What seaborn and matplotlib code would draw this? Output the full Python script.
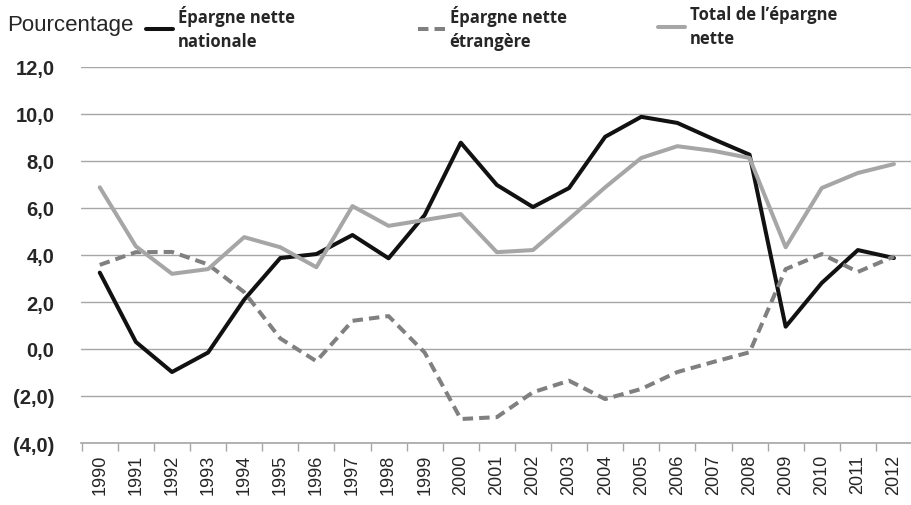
import matplotlib
matplotlib.use("Agg")
import matplotlib.pyplot as plt
import matplotlib.ticker as mticker
import seaborn as sns
import numpy as np
import pandas as pd

years = list(range(1990, 2013))
nationale = [3.25, 0.3, -0.98, -0.15, 2.1, 3.87, 4.04, 4.85, 3.86, 5.7,
             8.78, 6.98, 6.04, 6.85, 9.03, 9.88, 9.62, 8.93, 8.27, 0.95,
             2.81, 4.21, 3.87]
etrangere = [3.58, 4.12, 4.13, 3.6, 2.42, 0.45, -0.52, 1.2, 1.4, -0.15,
             -2.98, -2.9, -1.84, -1.35, -2.13, -1.7, -0.98, -0.55, -0.14, 3.4,
             4.04, 3.28, 3.94]
total = [6.88, 4.37, 3.2, 3.4, 4.76, 4.33, 3.48, 6.08, 5.24, 5.49,
         5.74, 4.12, 4.21, 5.53, 6.88, 8.13, 8.63, 8.43, 8.13, 4.33,
         6.85, 7.49, 7.87]
labels = ["Épargne nette\nnationale", "Épargne nette\nétrangère", "Total de l’épargne\nnette"]

df = pd.DataFrame({"annee": years, "nat": nationale, "etr": etrangere, "tot": total})

sns.set_style("white")

fig = plt.figure(figsize=(9.12, 5.06), dpi=100)
ax = fig.add_axes([81 / 912, 1 - 444 / 506, 1 - 81 / 912, (444 - 68) / 506])

sns.lineplot(data=df, x="annee", y="nat", ax=ax, color="#111111", lw=2.9, label=labels[0])
sns.lineplot(data=df, x="annee", y="etr", ax=ax, color="#808080", lw=2.9,
             label=labels[1], dashes=False, linestyle=(0, (2.6, 1.5)))
sns.lineplot(data=df, x="annee", y="tot", ax=ax, color="#a6a6a6", lw=2.9, label=labels[2])

ax.set_xlim(1989.48, 2012.28)
ax.set_ylim(-4, 12)
ax.set_xlabel("")
ax.set_ylabel("")

ax.set_yticks(np.arange(-4, 13, 2))
ax.yaxis.set_major_formatter(mticker.FuncFormatter(
    lambda v, p: ("(%.1f)" % abs(v)).replace(".", ",") if v < 0 else ("%.1f" % v).replace(".", ",")))
ax.grid(axis="y", color="#a6a6a6", lw=1)
ax.set_axisbelow(True)
ax.tick_params(axis="y", length=0, pad=19)
for t in ax.get_yticklabels():
    t.set_family("Liberation Sans")
    t.set_fontweight("bold")
    t.set_fontsize(14.5)

ax.set_xticks(years)
ax.set_xticklabels([str(y) for y in years], rotation=90, fontsize=13, family="Liberation Sans")
ax.set_xticks(np.arange(1989.5, 2013, 1), minor=True)
ax.tick_params(axis="x", which="major", length=0, pad=8)
ax.tick_params(axis="x", which="minor", length=6, color="#a6a6a6", width=1, direction="out", bottom=True)

for s in ["top", "right", "left"]:
    ax.spines[s].set_visible(False)
ax.spines["bottom"].set_color("#a6a6a6")
ax.spines["bottom"].set_linewidth(1.2)

ax.get_legend().remove()
handles, _ = ax.get_legend_handles_labels()
for h, lab, xpos in zip(handles, labels, [146, 418, 658]):
    leg = fig.legend([h], [lab], loc="upper left", bbox_to_anchor=(xpos / 912, 1 - 6 / 506),
                     frameon=False, handlelength=1.6, handletextpad=0.3, borderpad=0, borderaxespad=0,
                     prop={"family": "Open Sans", "weight": "bold", "size": 12})
    for t in leg.get_texts():
        t.set_linespacing(1.45)

fig.text(7 / 912, 1 - 25 / 506, "Pourcentage", fontsize=16, family="Liberation Sans", va="center", ha="left")

fig.savefig("out.png", dpi=100)
